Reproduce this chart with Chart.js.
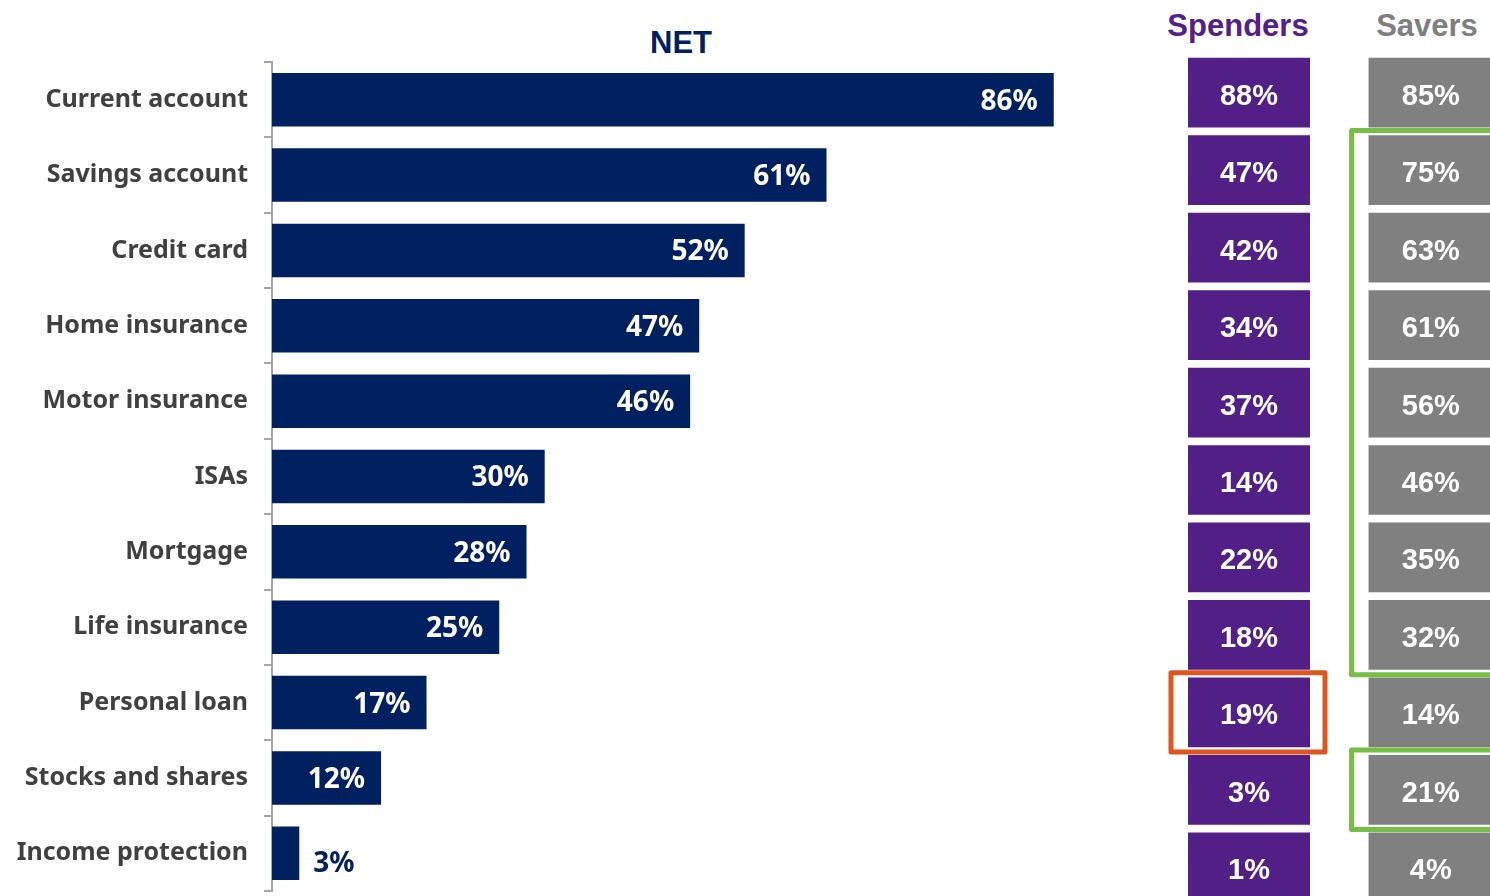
<!DOCTYPE html>
<html>
<head>
<meta charset="utf-8">
<script src="https://cdn.jsdelivr.net/npm/chart.js@4.4.1/dist/chart.umd.min.js"></script>
<style>
  html, body { margin: 0; padding: 0; background: #fff; overflow: hidden; }
  body { width: 1490px; height: 896px; position: relative; }
  #net { position: absolute; left: 0; top: 0; }
  #groups { position: absolute; left: 1160px; top: 0; }
  .head { position: absolute; font-family: "Liberation Sans", Arial, sans-serif; font-weight: bold; white-space: nowrap; }
</style>
</head>
<body>
<div class="head" style="left:600px;top:25px;width:162px;text-align:center;font-size:31px;color:#002060;">NET</div>
<div class="head" style="left:1138px;top:8px;width:200px;text-align:center;font-size:31px;color:#52208A;">Spenders</div>
<div class="head" style="left:1327px;top:8px;width:200px;text-align:center;font-size:31px;color:#7F7F7F;">Savers</div>
<canvas id="net" width="1181" height="922"></canvas>
<canvas id="groups" width="340" height="920"></canvas>
<script>
// products held
const categories = ['Current account', 'Savings account', 'Credit card', 'Home insurance', 'Motor insurance',
  'ISAs', 'Mortgage', 'Life insurance', 'Personal loan', 'Stocks and shares', 'Income protection'];
const netValues = [86, 61, 52, 47, 46, 30, 28, 25, 17, 12, 3];
const spenders = [88, 47, 42, 34, 37, 14, 22, 18, 19, 3, 1];
const savers = [85, 75, 63, 61, 56, 46, 35, 32, 14, 21, 4];
// row ranges outlined in each column
const saversHighlight = [[1, 7], [9, 9]];
const spendersHighlight = [[8, 8]];

const NAVY = '#002060';
const PURPLE = '#521F87';
const GREY = '#808080';

// percentage labels at the end of each bar
const barLabels = {
  id: 'barLabels',
  afterDatasetsDraw(chart) {
    const ctx = chart.ctx;
    const meta = chart.getDatasetMeta(0);
    ctx.save();
    ctx.font = 'bold 28px "Noto Sans", sans-serif';
    ctx.textBaseline = 'middle';
    meta.data.forEach((bar, i) => {
      const v = netValues[i];
      if (v < 5) {
        ctx.fillStyle = NAVY;
        ctx.textAlign = 'left';
        ctx.fillText(v + '%', bar.x + 14, bar.y + 11);
      } else {
        ctx.fillStyle = '#fff';
        ctx.textAlign = 'right';
        ctx.fillText(v + '%', bar.x - 16, bar.y + 2);
      }
    });
    ctx.restore();
  }
};

new Chart(document.getElementById('net'), {
  type: 'bar',
  data: {
    labels: categories,
    datasets: [{
      data: netValues,
      backgroundColor: NAVY,
      barPercentage: 0.71,
      categoryPercentage: 1
    }]
  },
  options: {
    indexAxis: 'y',
    responsive: false,
    animation: false,
    layout: { padding: { top: 62, bottom: 6, left: 0, right: 0 } },
    plugins: { legend: { display: false }, tooltip: { enabled: false } },
    scales: {
      x: { display: false, min: 0, max: 100 },
      y: {
        afterFit(scale) { scale.width = 272; },
        grid: { drawOnChartArea: false, drawTicks: true, tickLength: 8, color: '#A6A6A6', lineWidth: 2 },
        border: { display: true, color: '#A6A6A6', width: 2 },
        ticks: {
          color: '#404040',
          padding: 16,
          font: { family: '"Noto Sans", sans-serif', size: 25, weight: 'bold' }
        }
      }
    }
  },
  plugins: [barLabels]
});

// cell texts and outlines for the two group columns
const groupCells = {
  id: 'groupCells',
  afterDatasetsDraw(chart) {
    const ctx = chart.ctx;
    const y = chart.scales.y;
    const band = y.getPixelForValue(1) - y.getPixelForValue(0);
    ctx.save();
    ctx.font = 'bold 29px "Liberation Sans", Arial, sans-serif';
    ctx.fillStyle = '#fff';
    ctx.textAlign = 'center';
    ctx.textBaseline = 'middle';
    [spenders, savers].forEach((vals, d) => {
      chart.getDatasetMeta(d).data.forEach((cell, i) => {
        const cx = (cell.x + cell.base) / 2;
        ctx.fillText(vals[i] + '%', cx, cell.y + 4);
      });
    });
    const outline = (ranges, d, padL, padR, colour) => {
      const cells = chart.getDatasetMeta(d).data;
      ctx.strokeStyle = colour;
      ctx.lineWidth = 5;
      ctx.lineJoin = 'round';
      ranges.forEach(([a, b]) => {
        const left = Math.min(cells[a].x, cells[a].base) - padL;
        const right = Math.max(cells[a].x, cells[a].base) + padR;
        const top = cells[a].y - band / 2 - 1;
        const bottom = cells[b].y + band / 2 + 1;
        ctx.strokeRect(left, top, right - left, bottom - top);
      });
    };
    outline(saversHighlight, 1, 17, 40, '#77BE45');
    outline(spendersHighlight, 0, 17, 15, '#DD5520');
    ctx.restore();
  }
};

new Chart(document.getElementById('groups'), {
  type: 'bar',
  data: {
    labels: categories,
    datasets: [
      { data: spenders.map(() => [0, 1]), backgroundColor: PURPLE },
      { data: savers.map(() => [1.48, 2.5]), backgroundColor: GREY }
    ]
  },
  options: {
    indexAxis: 'y',
    responsive: false,
    animation: false,
    datasets: { bar: { barPercentage: 0.9, categoryPercentage: 1, grouped: false } },
    layout: { padding: { top: 54, bottom: 14, left: 28, right: 7 } },
    plugins: { legend: { display: false }, tooltip: { enabled: false } },
    scales: {
      x: { display: false, min: 0, max: 2.5 },
      y: { display: false }
    }
  },
  plugins: [groupCells]
});
</script>
</body>
</html>
